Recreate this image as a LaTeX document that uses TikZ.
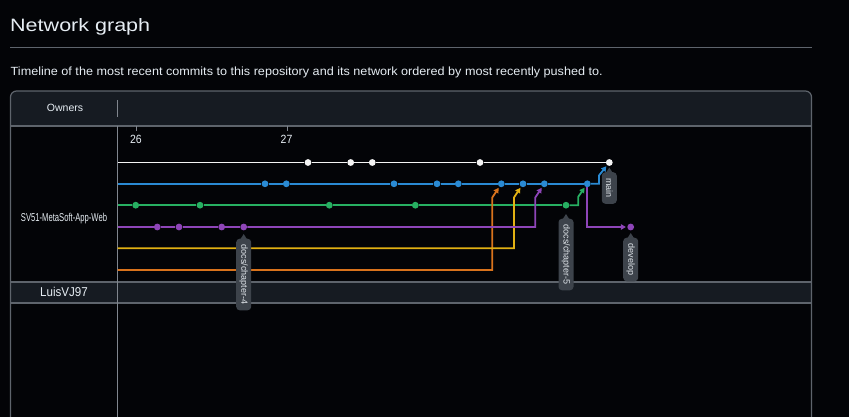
\documentclass[tikz,border=0pt]{standalone}
\usepackage{fontspec}
\setmainfont{Liberation Sans}
\usetikzlibrary{arrows.meta,calc}
\definecolor{bgc}{HTML}{030407}
\definecolor{bandc}{HTML}{161B22}
\definecolor{linec}{HTML}{5E646C}
\definecolor{vlinec}{HTML}{80868E}
\definecolor{textc}{HTML}{E6EDF3}
\definecolor{tipc}{HTML}{3D434B}
\definecolor{tiptext}{HTML}{E0E5EA}
\definecolor{gwhite}{HTML}{F4F4F4}
\definecolor{gblue}{HTML}{2A8AD3}
\definecolor{ggreen}{HTML}{27B062}
\definecolor{gpurple}{HTML}{8E45B8}
\definecolor{gyellow}{HTML}{E2B113}
\definecolor{gorange}{HTML}{D9731C}
\begin{document}
\begin{tikzpicture}[x=1pt,y=-1pt,
  dot/.style={circle,fill=#1,inner sep=0pt,minimum size=6.8pt},
  gline/.style={draw=#1,line width=1.8pt},
  garrow/.style={draw=#1,line width=1.8pt,-{Triangle[length=5pt,width=5.5pt]},shorten >=1.2pt},
  tiplabel/.style={fill=tipc,text=tiptext,rounded corners=3.5pt,rotate=-90,inner xsep=6pt,inner ysep=0pt,minimum height=15pt,font=\fontsize{9}{9}\selectfont},
  txt/.style={inner sep=0pt,text=textc},
  frame/.style={draw=linec,line width=1.2pt}]
\useasboundingbox (0,0) rectangle (849,417);
\clip (0,0) rectangle (849,417);
\fill[bgc] (0,0) rectangle (849,417);

% title
\node[txt,anchor=base west] (title) at (10,32) {\resizebox{140pt}{13pt}{Network graph}};
\draw[linec,line width=1pt] (10,47.5) -- (812,47.5);
\node[txt,anchor=base west] (subtitle) at (10.5,76) {\resizebox{592pt}{8.6pt}{Timeline of the most recent commits to this repository and its network ordered by most recently pushed to.}};

% frame and header
\fill[bandc,rounded corners=6pt] (10.5,91) rectangle (811.5,115);
\fill[bandc] (10.5,105) rectangle (811.5,126);
\fill[bandc] (10.5,282) rectangle (811.5,303);
\draw[frame,rounded corners=6pt] (10.5,430) -- (10.5,91) -- (811.5,91) -- (811.5,430);
\draw[frame] (10.5,126) -- (811.5,126);
\draw[frame] (10.5,282) -- (811.5,282);
\draw[frame] (10.5,303) -- (811.5,303);
\draw[vlinec,line width=1.2pt] (117.5,126) -- (117.5,430);
\draw[vlinec,line width=1pt] (117.5,100) -- (117.5,117.5);
\draw[vlinec,line width=1pt] (136.5,126) -- (136.5,131.5);
\draw[vlinec,line width=1pt] (287,126) -- (287,131.5);

\node[txt,text=textc,font=\fontsize{10.5}{10.5}\selectfont] (owners) at (65,108.3) {Owners};
\node[txt,anchor=base] (d26) at (136,143.3) {\resizebox{11.7pt}{8.3pt}{26}};
\node[txt,anchor=base] (d27) at (286.5,143.3) {\resizebox{11.7pt}{8.3pt}{27}};
\node[txt,anchor=base] (repo) at (64,221) {\resizebox{86pt}{8.3pt}{SV51-MetaSoft-App-Web}};
\node[txt,anchor=base] (luis) at (64,296) {\resizebox{47.7pt}{9.3pt}{LuisVJ97}};

% line starts
\coordinate (wl) at (117.5,162.5);
\coordinate (bl) at (117.5,183.8);
\coordinate (gl) at (117.5,205.2);
\coordinate (pl) at (117.5,227);
\coordinate (yl) at (117.5,248.3);
\coordinate (ol) at (117.5,270);

% dots
\foreach \n/\x in {w1/308,w2/350.7,w3/372.3,w4/480,wm/609.3}
  \node[dot=gwhite] (\n) at (\x,162.5) {};
\foreach \n/\x in {b1/265,b2/286.3,b3/394,b4/437,b5/458.3,b6/501.3,b7/523,b8/544.3,b9/587.3}
  \node[dot=gblue] (\n) at (\x,183.8) {};
\foreach \n/\x in {g1/135.7,g2/200,g3/329.3,g4/415.3,g5/566}
  \node[dot=ggreen] (\n) at (\x,205.2) {};
\foreach \n/\x in {p1/157.3,p2/179,p3/221.7,p4/243.7,dv/630.7}
  \node[dot=gpurple] (\n) at (\x,227) {};

% bend points
\coordinate (o1) at (492.3,270);   \coordinate (o2) at (492.3,197.5);
\coordinate (y1) at (514,248.3);   \coordinate (y2) at (514,197.5);
\coordinate (q1) at (535.3,227);   \coordinate (q2) at (535.3,197.5);
\coordinate (e1) at (578.3,205.2); \coordinate (e2) at (578.3,196.7);
\coordinate (m1) at (599,183.8);   \coordinate (m2) at (599,175.5);
\coordinate (v1) at (587.3,227);

% lines
\draw[gline=gwhite] (wl) -- (w1) -- (w2) -- (w3) -- (w4) -- (wm);
\draw[gline=gblue] (bl) -- (b1) -- (b2) -- (b3) -- (b4) -- (b5) -- (b6) -- (b7) -- (b8) -- (b9);
\draw[gline=ggreen] (gl) -- (g1) -- (g2) -- (g3) -- (g4) -- (g5);
\draw[gline=gpurple] (pl) -- (p1) -- (p2) -- (p3) -- (p4);
\draw[garrow=gorange] (ol) -- (o1) -- (o2) -- (b6);
\draw[garrow=gyellow] (yl) -- (y1) -- (y2) -- (b7);
\draw[garrow=gpurple] (p4) -- (q1) -- (q2) -- (b8);
\draw[garrow=ggreen] (g5) -- (e1) -- (e2) -- (b9);
\draw[garrow=gblue] (b9) -- (m1) -- (m2) -- (wm);
\draw[garrow=gpurple] (b9) -- (v1) -- (dv);

% labels
\node[tiplabel] (t4) at (243.7,274.5) {docs/chapter-4};
\node[tiplabel] (t5) at (566,254.5) {docs/chapter-5};
\node[tiplabel] (tm) at (609.3,188) {main};
\node[tiplabel] (td) at (630.7,259.5) {develop};
\foreach \t in {t4,t5,tm,td}
  \fill[tipc] ($(\t.west)+(-3.5,1)$) -- ($(\t.west)+(0,-4.5)$) -- ($(\t.west)+(3.5,1)$) -- cycle;
\end{tikzpicture}
\end{document}
